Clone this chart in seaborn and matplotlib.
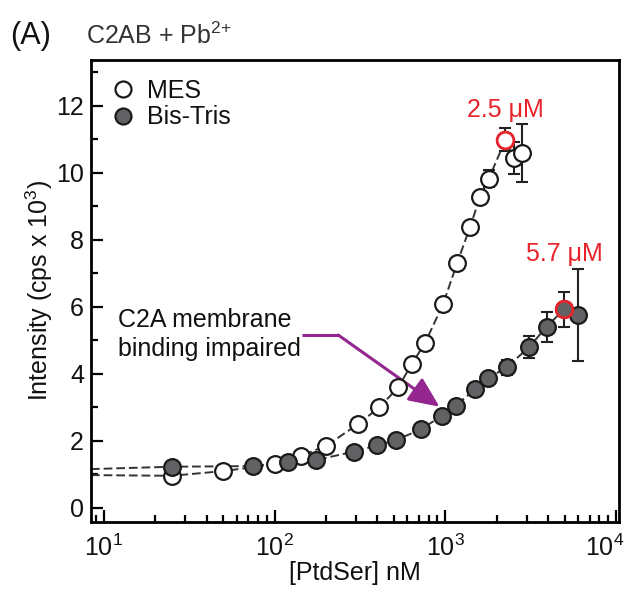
import numpy as np
import pandas as pd
import matplotlib
matplotlib.use("Agg")
import matplotlib.pyplot as plt
import seaborn as sns
from matplotlib.lines import Line2D
from matplotlib.ticker import MultipleLocator, LogLocator, NullFormatter
from matplotlib.transforms import ScaledTranslation

# ---------------- data ----------------
mes_x = [25, 50, 100, 143, 200, 310, 410, 530, 635, 760, 970, 1175, 1400, 1600, 1800, 2250, 2520, 2800]
mes_y = [0.96, 1.10, 1.30, 1.56, 1.85, 2.51, 3.00, 3.60, 4.29, 4.92, 6.08, 7.32, 8.40, 9.29, 9.83, 10.99, 10.44, 10.59]
mes_err = [0, 0, 0, 0, 0, 0, 0, 0, 0, 0, 0, 0, 0, 0.12, 0.25, 0.34, 0.47, 0.87]

bt_x = [25, 75, 120, 175, 290, 400, 515, 725, 950, 1150, 1490, 1780, 2290, 3100, 3920, 4970, 6010]
bt_y = [1.23, 1.25, 1.37, 1.43, 1.68, 1.87, 2.03, 2.35, 2.75, 3.05, 3.54, 3.87, 4.20, 4.80, 5.41, 5.93, 5.76]
bt_err = [0, 0, 0, 0, 0, 0, 0, 0, 0, 0, 0, 0.08, 0.22, 0.33, 0.45, 0.52, 1.37]

# fitted baseline values where the dashed fit curves meet the left axis
mes_fit_base = 0.98
bt_fit_base = 1.16

# highlighted points (index into series) and their labels
mes_hi = 15
bt_hi = 15
mes_hi_label = "2.5 μM"
bt_hi_label = "5.7 μM"

series_names = ["MES", "Bis-Tris"]
x_label = "[PtdSer] nM"
y_label = "Intensity (cps x 10$^3$)"
panel_label = "(A)"
title_text = r"C2AB + Pb$^{2\!+}$"
note_text = "C2A membrane\nbinding impaired"

# ---------------- style ----------------
sns.set_theme(style="ticks")
plt.rcParams["font.family"] = ["Liberation Sans", "DejaVu Sans"]
plt.rcParams["mathtext.fontset"] = "custom"
plt.rcParams["mathtext.rm"] = "Liberation Sans"
plt.rcParams["mathtext.it"] = "Liberation Sans:italic"
plt.rcParams["mathtext.default"] = "regular"
plt.rcParams["text.color"] = "#111111"
plt.rcParams["axes.labelcolor"] = "#111111"

FS = 18
RED = "#E8232A"
GRAY = "#626264"
EDGE = "#1a1a1a"
PURPLE = "#93278F"
XMIN, XMAX = 8.4, 10370

fig = plt.figure(figsize=(6.24, 5.9), dpi=100)
ax = fig.add_axes([0.1458, 0.1158, 0.8457, 0.7825])

df_mes = pd.DataFrame({"x": mes_x, "y": mes_y, "err": mes_err})
df_bt = pd.DataFrame({"x": bt_x, "y": bt_y, "err": bt_err})

# dashed fit curves
for df, base in [(df_mes, mes_fit_base), (df_bt, bt_fit_base)]:
    fit = pd.concat([pd.DataFrame({"x": [XMIN], "y": [base]}), df[["x", "y"]]], ignore_index=True)
    sns.lineplot(data=fit, x="x", y="y", ax=ax, color="#333333", lw=1.4,
                 linestyle=(0, (4.5, 2)), sort=False, estimator=None, zorder=1)

# error bars
for df in [df_mes, df_bt]:
    e = df[df["err"] > 0]
    ax.errorbar(e["x"], e["y"], yerr=e["err"], fmt="none", ecolor="#222222",
                elinewidth=1.5, capsize=4.5, capthick=1.5, zorder=2)

# markers
MS = 145
sns.scatterplot(data=df_mes, x="x", y="y", ax=ax, s=MS, color="white",
                edgecolor=EDGE, linewidth=1.6, zorder=3, legend=False)
sns.scatterplot(data=df_bt, x="x", y="y", ax=ax, s=MS, color=GRAY,
                edgecolor=EDGE, linewidth=1.6, zorder=3, legend=False)
# highlighted
sns.scatterplot(data=df_mes.iloc[[mes_hi]], x="x", y="y", ax=ax, s=MS, color="white",
                edgecolor=RED, linewidth=2.0, zorder=4, legend=False)
sns.scatterplot(data=df_bt.iloc[[bt_hi]], x="x", y="y", ax=ax, s=MS, color=GRAY,
                edgecolor=RED, linewidth=2.0, zorder=4, legend=False)

ax.annotate(mes_hi_label, (mes_x[mes_hi], mes_y[mes_hi]), xytext=(0, 13),
            textcoords="offset points", ha="center", va="bottom", color=RED, fontsize=FS)
ax.annotate(bt_hi_label, (bt_x[bt_hi], bt_y[bt_hi]), xytext=(0, 31),
            textcoords="offset points", ha="center", va="bottom", color=RED, fontsize=FS)

# axes
ax.set_xscale("log")
ax.set_xlim(XMIN, XMAX)
ax.set_ylim(-0.41, 13.37)
ax.yaxis.set_major_locator(MultipleLocator(2))
ax.yaxis.set_minor_locator(MultipleLocator(1))
ax.xaxis.set_major_locator(LogLocator(base=10, numticks=10))
ax.xaxis.set_minor_locator(LogLocator(base=10, subs=np.arange(2, 10), numticks=20))
ax.xaxis.set_minor_formatter(NullFormatter())
for s in ax.spines.values():
    s.set_linewidth(2.0)
    s.set_color("black")
ax.tick_params(which="both", direction="in", top=False, right=False, width=1.6,
               color="black", labelsize=FS, labelcolor="#111111")
ax.tick_params(which="major", length=8.5, pad=5)
ax.tick_params(axis="x", which="major", pad=9)
ax.tick_params(which="minor", length=5)
ax.set_xlabel(x_label, fontsize=FS, labelpad=0, color="#111111")
ax.set_ylabel(y_label, fontsize=FS, labelpad=1, color="#111111")

# legend
handles = [Line2D([], [], marker="o", ls="none", ms=11.5, mfc="white", mec=EDGE, mew=1.6),
           Line2D([], [], marker="o", ls="none", ms=11.5, mfc=GRAY, mec=EDGE, mew=1.6)]
leg = ax.legend(handles, series_names, loc="upper left", frameon=False, fontsize=FS,
                handletextpad=0.35, labelspacing=0.1, borderaxespad=0.3,
                bbox_to_anchor=(0.0, 0.997), handlelength=1.2)
for t in leg.get_texts():
    t.set_color("#111111")

# annotation with bent purple arrow
ax.text(0.051, 0.405, note_text, transform=ax.transAxes, fontsize=FS,
        ha="left", va="center", linespacing=1.28, color="#111111")
ax.plot([144, 238], [5.16, 5.16], color=PURPLE, lw=2.2, solid_capstyle="butt", zorder=2)
ax.annotate("", xy=(925, 3.02), xytext=(236, 5.16),
            arrowprops=dict(arrowstyle="-|>,head_length=0.85,head_width=0.38",
                            color=PURPLE, lw=2.2, mutation_scale=22,
                            shrinkA=0, shrinkB=0), zorder=2)

# title texts
fig.text(0.016, 0.926, panel_label, fontsize=22, ha="left", va="baseline", color="#111111")
fig.text(0.138, 0.926, title_text, fontsize=FS, ha="left", va="baseline", color="#333333")

# keep the last decade label inside the figure, as in the reference
fig.canvas.draw()
for t in ax.xaxis.get_major_ticks():
    if np.isclose(t.get_loc(), 1e4):
        t.label1.set_horizontalalignment("right")
        t.label1.set_transform(t.label1.get_transform() +
                               ScaledTranslation(6 / 72, 0, fig.dpi_scale_trans))

fig.savefig("out.png", dpi=100)
